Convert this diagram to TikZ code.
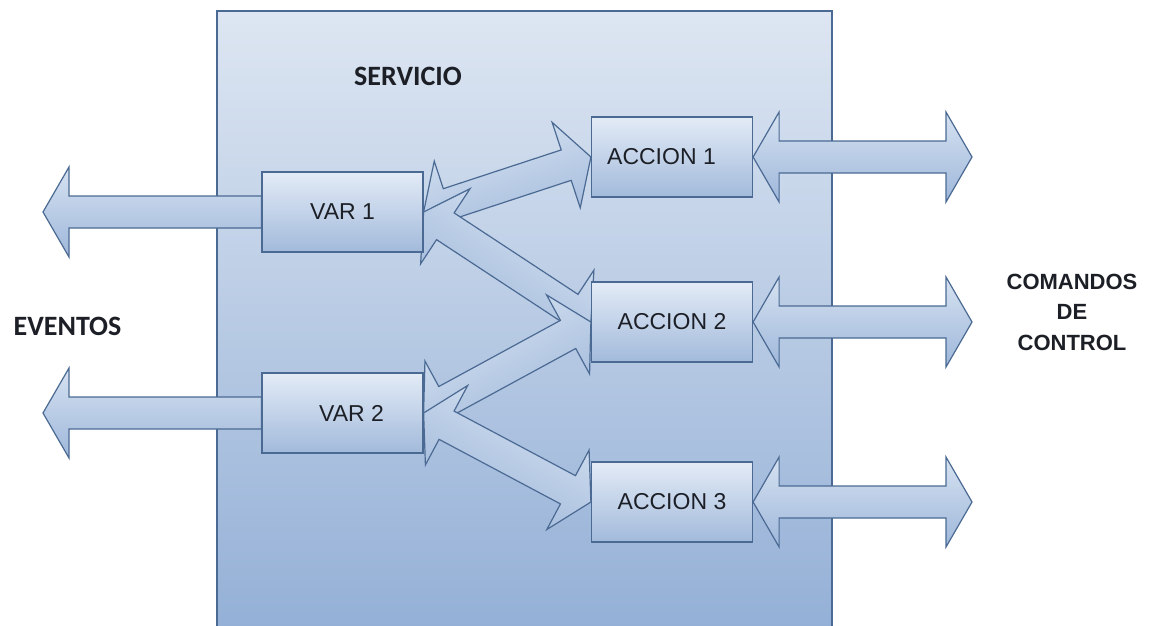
\documentclass[tikz,border=0pt]{standalone}
\usepackage{fontspec}
\setmainfont{Liberation Sans}
\newfontfamily\calibfont{Carlito}
\usetikzlibrary{calc}

\definecolor{edgeblue}{HTML}{4B6A93}
\definecolor{svctop}{HTML}{DDE6F2}
\definecolor{svcbot}{HTML}{93AFD6}
\definecolor{boxtop}{HTML}{E3EBF6}
\definecolor{boxbot}{HTML}{A2BADB}
\definecolor{arrtop}{HTML}{D6E2F1}
\definecolor{arrbot}{HTML}{9EB7DA}
\definecolor{inktext}{HTML}{1C1F26}

% fat arrow geometry: head length, head half-width, shaft half-width
\newcommand\headlen{26pt}
\newcommand\headhalf{45pt}
\newcommand\shafthalf{16pt}

% double-headed fat arrow between two points
\newcommand\fatdouble[3][]{%
  \path[fatarrow,#1] (#2)
    -- ($(#2)!\headlen!(#3)!\headhalf!90:(#3)$)
    -- ($(#2)!\headlen!(#3)!\shafthalf!90:(#3)$)
    -- ($(#3)!\headlen!(#2)!\shafthalf!-90:(#2)$)
    -- ($(#3)!\headlen!(#2)!\headhalf!-90:(#2)$)
    -- (#3)
    -- ($(#3)!\headlen!(#2)!\headhalf!90:(#2)$)
    -- ($(#3)!\headlen!(#2)!\shafthalf!90:(#2)$)
    -- ($(#2)!\headlen!(#3)!\shafthalf!-90:(#3)$)
    -- ($(#2)!\headlen!(#3)!\headhalf!-90:(#3)$)
    -- cycle;}

% single-headed fat arrow, tip at the first point
\newcommand\fatsingle[3][]{%
  \path[fatarrow,#1] (#2)
    -- ($(#2)!\headlen!(#3)!\headhalf!90:(#3)$)
    -- ($(#2)!\headlen!(#3)!\shafthalf!90:(#3)$)
    -- ($(#3)!\shafthalf!-90:(#2)$)
    -- ($(#3)!\shafthalf!90:(#2)$)
    -- ($(#2)!\headlen!(#3)!\shafthalf!-90:(#3)$)
    -- ($(#2)!\headlen!(#3)!\headhalf!-90:(#3)$)
    -- cycle;}

\begin{document}
\begin{tikzpicture}[x=1pt,y=-1pt,
  fatarrow/.style={draw=edgeblue,line width=1.2pt,line join=miter,
    top color=arrtop,bottom color=arrbot},
  blockbox/.style={draw=edgeblue,line width=1.2pt,minimum width=161pt,
    minimum height=80pt,inner sep=0pt,top color=boxtop,bottom color=boxbot,
    text=inktext,font=\fontsize{23}{27}\selectfont},
  biglabel/.style={text=inktext,font=\calibfont\bfseries\fontsize{28}{32}\selectfont}]

\useasboundingbox (0,0) rectangle (1150,625);
\fill[white] (0,0) rectangle (1150,625);
\clip (0,0) rectangle (1150,625);

% service container
\path[draw=edgeblue,line width=1.2pt,top color=svctop,bottom color=svcbot]
  (217,11) rectangle (832,640);
\node[biglabel] (servicio) at (408,76) {SERVICIO};

% blocks (placed first so the arrows can refer to them)
\path (342.5,212) node[blockbox] (v1) {}
      (342.5,413) node[blockbox] (v2) {}
      (672,157) node[blockbox] (a1) {}
      (672,322) node[blockbox] (a2) {}
      (672,502) node[blockbox] (a3) {};

% free ends of the outer arrows
\coordinate (ev1) at (43,212);
\coordinate (ev2) at (43,413);
\coordinate (cm1) at (972,157);
\coordinate (cm2) at (972,322);
\coordinate (cm3) at (972,502);

% events leaving the variables
\fatsingle{ev1}{v1.west}
\fatsingle{ev2}{v2.west}

% control commands on the actions
\fatdouble{a1.east}{cm1}
\fatdouble{a2.east}{cm2}
\fatdouble{a3.east}{cm3}

% links between variables and actions
\fatdouble[shading angle=18]{v1.east}{a1.west}
\fatdouble[shading angle=-33]{v1.east}{a2.west}
\fatdouble[shading angle=28]{v2.east}{a2.west}
\fatdouble[shading angle=-28]{v2.east}{a3.west}

% blocks drawn again on top with their labels
\node[blockbox] (v1b) at (v1) {VAR 1};
\node[blockbox] (v2b) at (v2) {\hspace*{18pt}VAR 2};
\node[blockbox] (a1b) at (a1) {ACCION 1\hspace*{21pt}};
\node[blockbox] (a2b) at (a2) {ACCION 2};
\node[blockbox] (a3b) at (a3) {ACCION 3};

% side captions
\node[biglabel] (eventos) at (67.5,326) {EVENTOS};
\node[text=inktext,align=center,
  font=\bfseries\fontsize{22}{30.5}\selectfont] (comandos) at (1072,312)
  {COMANDOS\\DE\\CONTROL};
\end{tikzpicture}
\end{document}
